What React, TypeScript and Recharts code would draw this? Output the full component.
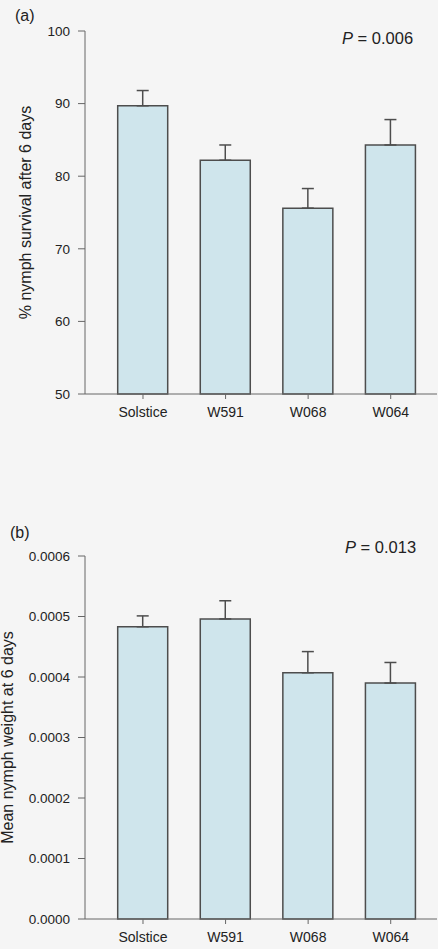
import React from "react";
import { BarChart, Bar, XAxis, YAxis, ErrorBar } from "recharts";

const categories = ["Solstice", "W591", "W068", "W064"];
const survival = [89.7, 82.2, 75.6, 84.3];
const survivalSe = [2.1, 2.1, 2.7, 3.5];
const weight = [0.000483, 0.000496, 0.000407, 0.00039];
const weightSe = [0.000018, 0.00003, 0.000035, 0.000034];
const survivalTicks = [50, 60, 70, 80, 90, 100];
const weightTicks = [0, 0.0001, 0.0002, 0.0003, 0.0004, 0.0005, 0.0006];

const FONT = "'Liberation Sans', Arial, sans-serif";
const BG = "#f5f5f5";
const FILL = "#cfe5ec";
const EDGE = "#4d4d4d";
const AXIS = "#666666";

const survivalData = categories.map((name, i) => ({
  name,
  value: survival[i],
  err: [0, survivalSe[i]],
}));

const weightData = categories.map((name, i) => ({
  name,
  value: weight[i],
  err: [0, weightSe[i]],
}));

const yLabel = (text: string, dx: number) => (props: any) => {
  const { viewBox } = props;
  const x = viewBox.x + dx;
  const y = viewBox.y + viewBox.height / 2;
  return (
    <text
      x={x}
      y={y}
      transform={`rotate(-90, ${x}, ${y})`}
      textAnchor="middle"
      dominantBaseline="central"
      fontSize={16}
      fontFamily={FONT}
      fill="#222"
    >
      {text}
    </text>
  );
};

interface PanelProps {
  data: { name: string; value: number; err: number[] }[];
  ticks: number[];
  domain: [number, number];
  label: string;
  labelX: number;
  top: number;
  height: number;
  fmt?: (v: number) => string;
}

const Panel: React.FC<PanelProps> = ({
  data,
  ticks,
  domain,
  label,
  labelX,
  top,
  height,
  fmt,
}) => (
  <BarChart
    width={438}
    height={height}
    data={data}
    margin={{ top, right: 1, left: 0, bottom: 0 }}
    barSize={50}
  >
    <XAxis
      dataKey="name"
      height={height - top - 363}
      padding={{ left: 16.7, right: 5 }}
      tickSize={5}
      tickMargin={8}
      stroke={AXIS}
      tick={{ fill: "#222", fontSize: 14, fontFamily: FONT }}
    />
    <YAxis
      width={85}
      domain={domain}
      ticks={ticks}
      interval={0}
      tickSize={7}
      tickMargin={8}
      stroke={AXIS}
      tickFormatter={fmt}
      tick={{ fill: "#222", fontSize: 13.5, fontFamily: FONT }}
      label={{ content: yLabel(label, labelX) }}
    />
    <Bar
      dataKey="value"
      fill={FILL}
      stroke={EDGE}
      strokeWidth={1.5}
      isAnimationActive={false}
    >
      <ErrorBar
        dataKey="err"
        width={6}
        stroke={EDGE}
        strokeWidth={1.5}
        direction="y"
      />
    </Bar>
  </BarChart>
);

const note: React.CSSProperties = {
  position: "absolute",
  fontFamily: FONT,
  fontSize: 16,
  color: "#222",
  lineHeight: "16px",
  whiteSpace: "nowrap",
};

export default function App() {
  return (
    <div
      style={{
        position: "absolute",
        left: 0,
        top: 0,
        width: 438,
        height: 949,
        background: BG,
        overflow: "hidden",
      }}
    >
      <div style={{ position: "absolute", left: 0, top: 0 }}>
        <Panel
          data={survivalData}
          ticks={survivalTicks}
          domain={[50, 100]}
          label="% nymph survival after 6 days"
          labelX={25}
          top={31}
          height={470}
        />
      </div>
      <div style={{ position: "absolute", left: 0, top: 470 }}>
        <Panel
          data={weightData}
          ticks={weightTicks}
          domain={[0, 0.0006]}
          label="Mean nymph weight at 6 days"
          labelX={7}
          top={86}
          height={479}
          fmt={(v) => v.toFixed(4)}
        />
      </div>
      <div style={{ ...note, left: 15, top: 8 }}>(a)</div>
      <div style={{ ...note, left: 342, top: 30, fontSize: 16.5 }}>
        <i>P</i> = 0.006
      </div>
      <div style={{ ...note, left: 10, top: 525 }}>(b)</div>
      <div style={{ ...note, left: 345, top: 539, fontSize: 16.5 }}>
        <i>P</i> = 0.013
      </div>
    </div>
  );
}
